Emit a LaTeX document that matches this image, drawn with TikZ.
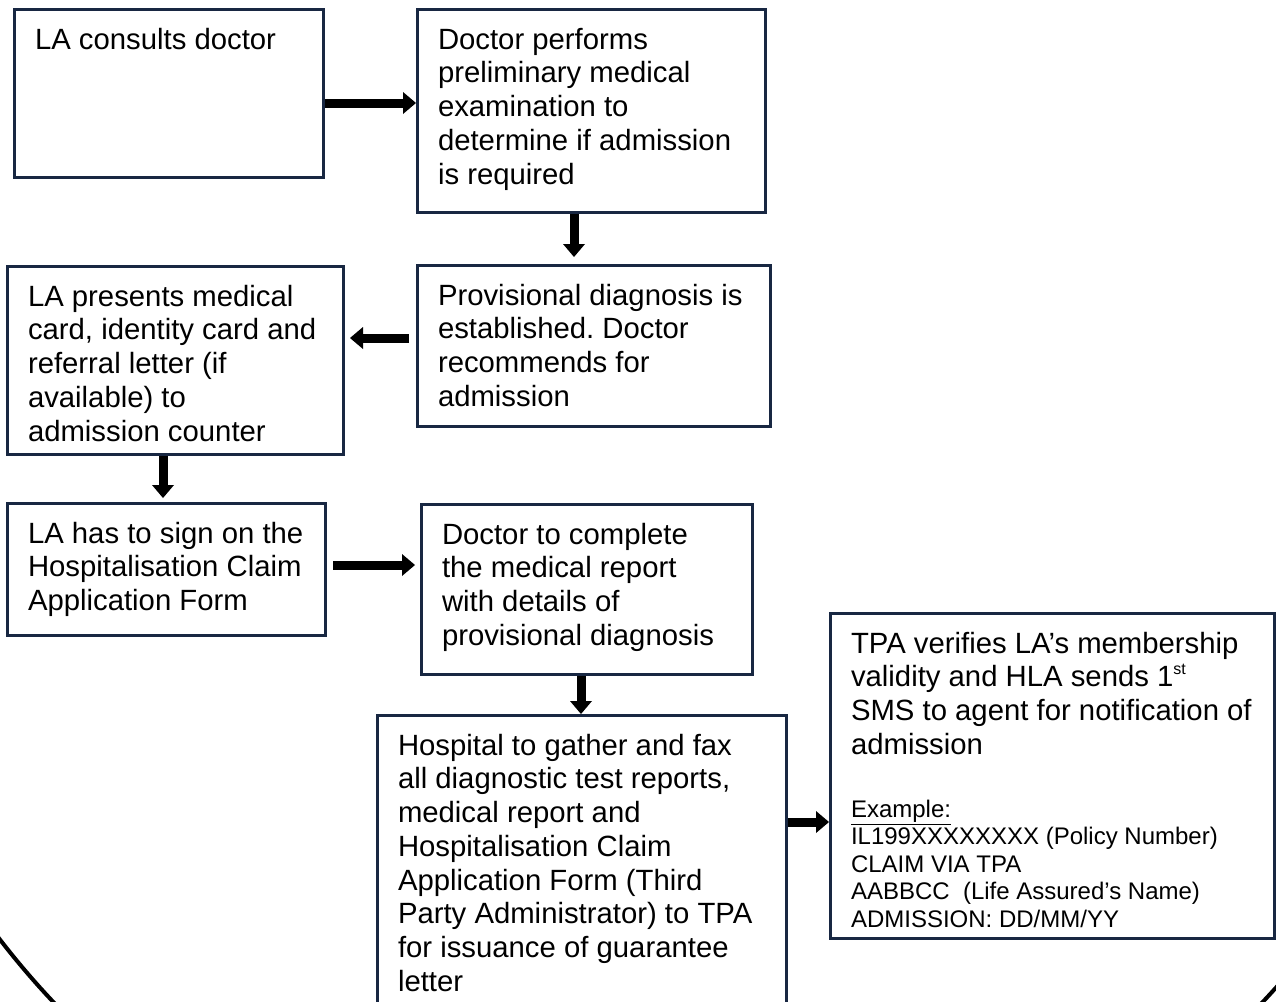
\documentclass[tikz,border=0pt]{standalone}
\usepackage{fontspec}
\setmainfont{Liberation Sans}
\usepackage{tikz}
\usetikzlibrary{arrows.meta}
\frenchspacing

\definecolor{navy}{RGB}{24,39,66}
\newcommand{\bodysize}{\fontsize{29.3pt}{33.7pt}\selectfont}
\newcommand{\notesize}{\fontsize{24pt}{27.5pt}\selectfont}
\newcommand{\boxtext}[3]{\parbox[t][#2][t]{#1}{\raggedright #3}}

\begin{document}
\begin{tikzpicture}[x=1pt, y=-1pt,
		box/.style={draw=navy, line width=3pt, fill=white, anchor=north west, inner xsep=20.5pt, inner ysep=18.5pt, font=\bodysize},
		fat/.style={line width=9pt, -{Triangle[width=22pt, length=13pt, line width=0pt]}}]
	\useasboundingbox (0,0) rectangle (1276,1001);
	\clip (0,0) rectangle (1276,1001);
	\fill[white] (0,0) rectangle (1276,1001);
	\draw[line width=4pt] (658,432) circle[radius=831pt];

	\node[box] (b1) at (13,8) {\boxtext{268pt}{131pt}{LA consults doctor}};
	\node[box] (b2) at (416,8) {\boxtext{307pt}{166pt}{Doctor performs\\ preliminary medical\\ examination to\\ determine if admission\\ is required}};
	\node[box] (b3) at (416,264) {\boxtext{312pt}{124pt}{Provisional diagnosis is\\ established. Doctor\\ recommends for\\ admission}};
	\node[box] (b4) at (6,265) {\boxtext{295pt}{151pt}{LA presents medical\\ card, identity card and\\ referral letter (if\\ available) to\\ admission counter}};
	\node[box] (b5) at (6,502) {\boxtext{277pt}{95pt}{LA has to sign on the\\ Hospitalisation Claim\\ Application Form}};
	\node[box] (b6) at (420,503) {\boxtext{290pt}{133pt}{Doctor to complete\\ the medical report\\ with details of\\ provisional diagnosis}};
	\node[box] (b7) at (376,714) {\boxtext{368pt}{300pt}{Hospital to gather and fax\\ all diagnostic test reports,\\ medical report and\\ Hospitalisation Claim\\ Application Form (Third\\ Party Administrator) to TPA\\ for issuance of guarantee\\ letter}};
	\node[box] (b8) at (829,612) {\boxtext{403pt}{288pt}{TPA verifies LA’s membership\\ validity and HLA sends 1\raisebox{0.42em}{\fontsize{16pt}{16pt}\selectfont st}\\ SMS to agent for notification of\\ admission\par
		\vspace{35.5pt}{\notesize\underline{Example:}\\ IL199XXXXXXXX (Policy Number)\\ CLAIM VIA TPA\\ AABBCC\ \ (Life Assured’s Name)\\ ADMISSION: DD/MM/YY\par}}};

	\draw[fat] (b1.east |- 0,103) -- (b2.west |- 0,103);
	\draw[fat, shorten >=7pt] (574,0 |- b2.south) -- (574,0 |- b3.north);
	\draw[fat, shorten <=7pt, shorten >=5pt] (b3.west |- 0,338) -- (b4.east |- 0,338);
	\draw[fat, shorten >=4pt] (163,0 |- b4.south) -- (163,0 |- b5.north);
	\draw[fat, shorten <=6pt, shorten >=5pt] (b5.east |- 0,565) -- (b6.west |- 0,565);
	\draw[fat] (581,0 |- b6.south) -- (581,0 |- b7.north);
	\draw[fat] (b7.east |- 0,822) -- (b8.west |- 0,822);
\end{tikzpicture}
\end{document}
